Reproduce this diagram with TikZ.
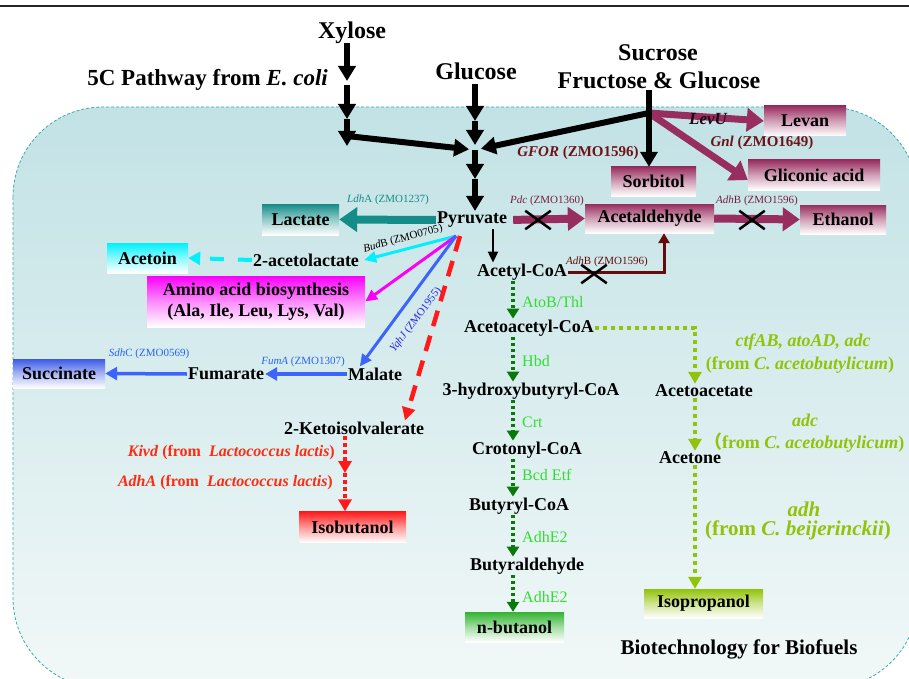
\documentclass[tikz,border=0pt]{standalone}
\usepackage{fontspec}
\setmainfont{Liberation Serif}
\newfontfamily\cjk{Noto Sans CJK SC}
\usetikzlibrary{arrows.meta,shapes.misc}
\definecolor{bgtop}{RGB}{194,226,229}
\definecolor{bgbot}{RGB}{242,248,248}
\definecolor{bordc}{RGB}{60,170,175}
\definecolor{maroonc}{RGB}{152,46,96}
\definecolor{darkredc}{RGB}{110,20,25}
\definecolor{pdccol}{RGB}{120,30,60}
\definecolor{brownred}{RGB}{100,12,12}
\definecolor{labdark}{RGB}{30,10,20}
\definecolor{tealc}{RGB}{20,140,136}
\definecolor{cyanc}{RGB}{0,240,252}
\definecolor{magc}{RGB}{250,0,250}
\definecolor{bluec}{RGB}{60,100,250}
\definecolor{bluebox}{RGB}{60,90,230}
\definecolor{bluelab}{RGB}{40,40,230}
\definecolor{bluelab2}{RGB}{40,100,240}
\definecolor{redc}{RGB}{255,25,25}
\definecolor{redlab}{RGB}{250,45,20}
\definecolor{dgreen}{RGB}{10,120,10}
\definecolor{lgreen}{RGB}{50,220,50}
\definecolor{ygreen}{RGB}{145,195,10}
\definecolor{ngreen}{RGB}{50,180,50}
\begin{document}
\begin{tikzpicture}[x=1pt,y=-1pt,
  every node/.style={inner sep=1pt},
  txt/.style={font=\fontsize{18}{21}\selectfont\bfseries},
  ttl/.style={font=\fontsize{24}{28}\selectfont\bfseries},
  zmo/.style={font=\fontsize{11}{12}\selectfont},
  glab/.style={font=\fontsize{16}{18}\selectfont, text=lgreen, anchor=west},
  ylab/.style={font=\fontsize{18}{21}\selectfont\bfseries, text=ygreen},
  ylabbig/.style={font=\fontsize{21}{24}\selectfont\bfseries, text=ygreen},
  redlabs/.style={font=\fontsize{16}{18}\selectfont\bfseries, text=redlab, anchor=east},
  gbox/.style={font=\fontsize{18}{21}\selectfont\bfseries, inner sep=0pt, text=black,
    top color=#1, bottom color=white, middle color=#1!45!white},
  blk/.style={line width=6pt, -{Triangle[length=15pt,width=17pt]}},
  mar/.style={draw=maroonc, line width=8pt, -{Triangle[length=17pt,width=23pt]}},
  xm/.style={cross out, draw=black, line width=2.5pt, minimum width=23pt, minimum height=16pt, inner sep=0pt},
  thinarr/.style={line width=3pt, -{Triangle[length=12pt,width=11pt]}},
  gdot/.style={draw=dgreen, line width=3.5pt, dash pattern=on 3pt off 3pt, -{Triangle[length=10pt,width=12pt]}},
  ydot/.style={draw=ygreen, line width=4pt, dash pattern=on 4pt off 4pt, -{Triangle[length=12pt,width=13pt]}},
  reddot/.style={draw=redc, line width=4pt, dash pattern=on 4pt off 3pt, -{Triangle[length=12pt,width=13pt]}},
]
\useasboundingbox (0,0) rectangle (909,679);
\clip (0,0) rectangle (909,679);
\fill[white] (0,0) rectangle (909,679);
% background cell
\path[draw=bordc, line width=0.8pt, dash pattern=on 3pt off 2pt, rounded corners=90pt,
  top color=bgtop, bottom color=bgbot] (13,107) rectangle (918,688);
% top rule
\draw[line width=2pt, black!85] (0,6) -- (909,6);

% titles
\node[ttl] (xyl) at (352,33) {Xylose};
\node[ttl, font=\fontsize{23}{27}\selectfont\bfseries, anchor=east] (path5c) at (329,80) {5C Pathway from \textit{E. coli}};
\node[ttl] (glc) at (476,71) {Glucose};
\node[ttl] (suc) at (658,53) {Sucrose};
\node[ttl] (fg) at (659,80) {Fructose \& Glucose};

% boxes
\node[gbox=maroonc, minimum width=82pt, minimum height=30pt] (levan) at (805,121) {Levan};
\node[gbox=maroonc, minimum width=132pt, minimum height=30pt] (gli) at (814,175) {Gliconic acid};
\node[gbox=maroonc, minimum width=85pt, minimum height=29pt] (sorb) at (653.5,181.5) {Sorbitol};
\node[gbox=maroonc, minimum width=129pt, minimum height=29pt] (acet) at (649.5,218.5) {Acetaldehyde};
\node[gbox=maroonc, minimum width=86pt, minimum height=29pt] (eth) at (843,219.5) {Ethanol};
\node[gbox=tealc, minimum width=77pt, minimum height=31pt] (lac) at (300.5,219.5) {Lactate};
\node[gbox=cyanc, minimum width=81pt, minimum height=30pt] (acetoin) at (147.5,258) {Acetoin};
\node[gbox=magc, minimum width=218pt, minimum height=51pt, align=center] (amino) at (256,301.5) {Amino acid biosynthesis\\(Ala, Ile, Leu, Lys, Val)};
\node[gbox=bluebox, minimum width=92pt, minimum height=29pt] (succ) at (59,373.5) {Succinate};
\node[gbox=redc, minimum width=107pt, minimum height=31pt] (isob) at (352.5,527) {Isobutanol};
\node[gbox=ngreen, minimum width=99pt, minimum height=30pt] (nbut) at (514.5,627) {n-butanol};
\node[gbox=ygreen, minimum width=119pt, minimum height=29pt] (isop) at (703.5,603.5) {Isopropanol};

% metabolites
\node[txt] (pyr) at (472,220) {Pyruvate};
\node[txt] (acl) at (306,260) {2-acetolactate};
\node[txt] (mal) at (375,374) {Malate};
\node[txt] (fum) at (226,374) {Fumarate};
\node[txt] (keto) at (354,428) {2-Ketoisolvalerate};
\node[txt] (acoa) at (522,272) {Acetyl-CoA};
\node[txt] (aacoa) at (529,328) {Acetoacetyl-CoA};
\node[txt] (hbc) at (531,391) {3-hydroxybutyryl-CoA};
\node[txt] (croto) at (527,450) {Crotonyl-CoA};
\node[txt] (bcoa) at (519,506) {Butyryl-CoA};
\node[txt] (bald) at (527,566) {Butyraldehyde};
\node[txt] (aacet) at (704,391) {Acetoacetate};
\node[txt] (acetone) at (690,458) {Acetone};

% junction coordinates
\coordinate (x0) at (347,43);
\coordinate (x1) at (347,81);
\coordinate (x2) at (347,85);
\coordinate (x3) at (347,119);
\coordinate (x4) at (347,146);
\coordinate (xc) at (347,136);
\coordinate (J) at (475,150);
\coordinate (g0) at (475,84);
\coordinate (g1) at (475,121);
\coordinate (g3) at (475,179);
\coordinate (S) at (649,113);
\coordinate (fan) at (456,236);
\coordinate (km) at (345,473);
\coordinate (gx) at (513,0);
\coordinate (yx) at (695,0);

% maroon arrows from sucrose
\draw[mar, line width=7pt] (S) -- (levan.west);
\draw[mar, line width=7pt] (S) -- ([yshift=-5pt]gli.west);

% black thick arrows
\draw[blk] (x0) -- (x1);
\draw[blk] (x2) -- (x3);
\draw[blk] (x3) -- (x4);
\draw[blk, shorten >=6pt] (xc) -- (J);
\draw[blk] (g0) -- (g1);
\draw[blk, shorten >=5pt] (g1) -- (J);
\draw[blk] (J) -- (g3);
\draw[blk] (g3) -- (pyr.north -| J);
\draw[line width=6pt] (fg.south -| S) -- (S);
\draw[blk, shorten >=6pt] (S) -- (J);
\draw[blk] (S) -- (sorb.north -| S);

% labels top
\node[font=\fontsize{17}{18}\selectfont\bfseries\itshape, text=labdark] (levu) at (708,119) {LevU};
\node[font=\fontsize{15}{17}\selectfont\bfseries, text=darkredc] (gnl) at (762,143) {\textit{Gnl} (ZMO1649)};
\node[font=\fontsize{15}{17}\selectfont\bfseries, text=darkredc] (gfor) at (578,153) {\textit{GFOR} (ZMO1596)};

% pyruvate row
\draw[mar, shorten <=5pt] (pyr.east) -- (acet.west);
\draw[mar] (acet.east) -- (eth.west);
\node[xm] (xpdc) at (538,220) {};
\node[xm] (xadh1) at (752,220) {};
\draw[draw=tealc, line width=8pt, -{Triangle[length=18pt,width=24pt]}] (pyr.west) -- (lac.east);
\node[zmo, text=tealc] (ldha) at (388,200) {\textit{Ldh}A (ZMO1237)};
\node[zmo, text=pdccol] (pdc) at (547,201) {\textit{Pdc} (ZMO1360)};
\node[zmo, text=pdccol] (adhb1) at (757,201) {\textit{Adh}B (ZMO1596)};

% pyruvate -> acetyl-CoA
\draw[line width=2pt, -{Triangle[length=11pt,width=10pt]}] ([xshift=21pt]pyr.south) -- ([xshift=-29pt]acoa.north);
% AdhB back to acetaldehyde
\draw[draw=brownred, line width=3pt, -{Triangle[length=10pt,width=11pt]}] (acoa.east) -| ([xshift=14.5pt]acet.south);
\node[xm] (xadh2) at (594,274) {};
\node[zmo, text=brownred] (adhb2) at (607,262) {\textit{Adh}B (ZMO1596)};

% left fan
\draw[thinarr, draw=cyanc] (fan) -- ([xshift=4pt]acl.east);
\draw[thinarr, draw=magc] (fan) -- (amino.east);
\draw[thinarr, draw=bluec] (fan) -- ([xshift=13pt]mal.north west);
\draw[draw=redc, line width=4.5pt, dash pattern=on 16pt off 10pt, -{Triangle[length=13pt,width=13pt]}] ([xshift=4pt]fan) -- ([xshift=51pt]keto.north);
\draw[draw=cyanc, line width=4pt, dash pattern=on 14pt off 14pt, -{Triangle[length=12pt,width=13pt]}] (acl.west) -- (acetoin.east);
\node[zmo, rotate=15] (budb) at (403,239) {\textit{Bud}B (ZMO0705)};
\node[zmo, text=bluelab, rotate=53] (yqhj) at (416,320) {\textit{YqhJ} (ZMO1955)};

% TCA branch
\draw[draw=bluec, line width=3.5pt, -{Triangle[length=12pt,width=13pt]}] (mal.west) -- (fum.east);
\draw[draw=bluec, line width=3.5pt, -{Triangle[length=12pt,width=13pt]}] (fum.west) -- (succ.east);
\node[zmo, text=bluelab2] (fuma) at (303,362) {\textit{FumA} (ZMO1307)};
\node[zmo, text=bluelab2] (sdhc) at (149,354) {\textit{Sdh}C (ZMO0569)};

% isobutanol branch
\draw[reddot] (keto.south -| km) -- (km);
\draw[reddot] (km) -- (isob.north -| km);
\node[redlabs] (kivd) at (336,453) {\textit{Kivd} (from\ \ \textit{Lactococcus lactis})};
\node[redlabs] (adha) at (334,483) {\textit{AdhA} (from\ \ \textit{Lactococcus lactis})};

% butanol column
\draw[gdot] (acoa.south -| gx) -- (aacoa.north -| gx);
\draw[gdot] (aacoa.south -| gx) -- (hbc.north -| gx);
\draw[gdot] (hbc.south -| gx) -- (croto.north -| gx);
\draw[gdot] (croto.south -| gx) -- (bcoa.north -| gx);
\draw[gdot] (bcoa.south -| gx) -- (bald.north -| gx);
\draw[gdot] (bald.south -| gx) -- (nbut.north -| gx);
\node[glab] (atob) at (521,302) {AtoB/Thl};
\node[glab] (hbd) at (521,361) {Hbd};
\node[glab] (crt) at (521,422) {Crt};
\node[glab] (bcd) at (521,475) {Bcd Etf};
\node[glab] (adhe1) at (521,537) {AdhE2};
\node[glab] (adhe2) at (521,597) {AdhE2};

% isopropanol column
\draw[ydot] (aacoa.east) -| (aacet.north -| yx);
\draw[ydot] (aacet.south -| yx) -- (acetone.north -| yx);
\draw[ydot] (acetone.south -| yx) -- (isop.north -| yx);
\node[ylab] (ctf) at (803,342) {\textit{ctfAB, atoAD, adc}};
\node[ylab] (from1) at (800,365) {(from \textit{C. acetobutylicum})};
\node[ylab] (adc) at (805,420) {\textit{adc}};
\node[ylab, anchor=west] (from2) at (703,443) {{\cjk （}from \textit{C. acetobutylicum})};
\node[ylabbig] (adh) at (804,509) {\textit{adh}};
\node[ylabbig] (from3) at (798,530) {(from \textit{C. beijerinckii})};

\node[font=\fontsize{21}{24}\selectfont\bfseries] (bio) at (739,649) {Biotechnology for Biofuels};
\end{tikzpicture}
\end{document}
